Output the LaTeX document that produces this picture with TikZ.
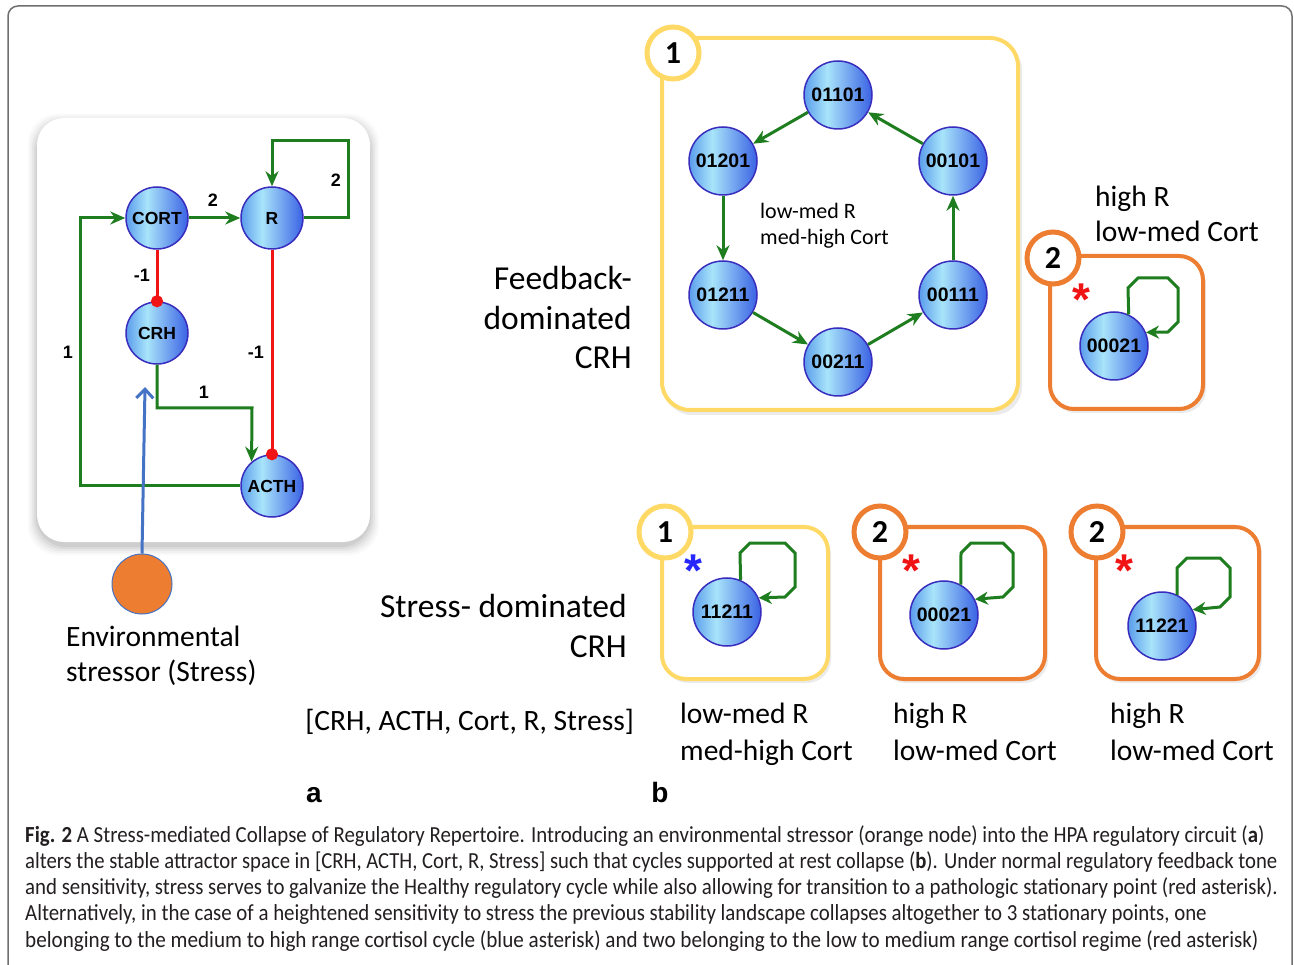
\documentclass[tikz,border=0pt]{standalone}
\usepackage{fontspec}
\usepackage{graphicx}
\setmainfont{Carlito}
\newfontfamily\arialf{Liberation Sans}
\usetikzlibrary{arrows.meta}
\definecolor{gr}{HTML}{1E7D1E}
\definecolor{rd}{HTML}{F01414}
\definecolor{yl}{HTML}{FFD966}
\definecolor{og}{HTML}{ED7D31}
\definecolor{bl}{HTML}{4472C4}
\definecolor{bA}{HTML}{5A9CEC}
\definecolor{bB}{HTML}{A8E4FA}
\definecolor{bC}{HTML}{3A62E4}
\definecolor{bD}{HTML}{3A2DBE}
\definecolor{framec}{HTML}{707070}
\definecolor{capc}{HTML}{231F20}
\pgfdeclarehorizontalshading{bubshade}{100bp}{color(0bp)=(bA); color(25bp)=(bA); color(42bp)=(bB); color(75bp)=(bC); color(100bp)=(bC)}
\newcommand\nodefontA{\arialf\bfseries\fontsize{17.5}{20}\selectfont}
\newcommand\nodefontB{\arialf\bfseries\fontsize{19.5}{20}\selectfont}
\newcommand\biglabfont{\fontsize{29.5}{35}\selectfont}
\newcommand\hugelabfont{\fontsize{33.5}{38}\selectfont}
\newcommand\midlabfont{\fontsize{22}{26}\selectfont}
\newcommand\capfont{\fontsize{23}{26}\selectfont}
\newcommand\badgefont{\bfseries\fontsize{32}{34}\selectfont}
\newcommand\edgelabfont{\arialf\bfseries\fontsize{18}{20}\selectfont}
\newcommand\astfont{\arialf\bfseries\fontsize{46}{46}\selectfont}
\newsavebox\capmeasure
\newlength\caplen
\begin{document}
\sbox\capmeasure{\capfont alters the stable attractor space in [CRH, ACTH, Cort, R, Stress] such that cycles supported at rest collapse (\textbf{b}). Under normal regulatory feedback tone}%
\setlength\caplen{\wd\capmeasure}%
\pgfmathsetmacro\capsx{1262pt/\caplen}%
\pgfmathsetmacro\capsxb{1252pt/\caplen}%
\pgfmathsetmacro\capsxe{1.013*\capsx}%
\begin{tikzpicture}[x=1pt,y=-1pt,
  bub/.style={circle, draw=bD, line width=1.5pt, shading=bubshade, inner sep=0pt},
  bubA/.style={bub, minimum size=62pt, font=\nodefontA},
  bubB/.style={bub, minimum size=68pt, font=\nodefontB},
  garrow/.style={draw=gr, line width=3pt, -{Stealth[length=15pt,width=13pt]}},
  gloop/.style={draw=gr, line width=3pt, -{Stealth[length=13pt,width=13pt]}},
  rinh/.style={draw=rd, line width=3pt, -{Circle[length=12pt]}, shorten >=-6pt},
  elab/.style={font=\edgelabfont, inner sep=0pt},
  lbl/.style={font=\biglabfont, inner sep=0pt},
  hlbl/.style={font=\hugelabfont, inner sep=0pt},
  mlbl/.style={font=\midlabfont, inner sep=0pt},
  ybox/.style={draw=yl, line width=4pt, fill=white, rounded corners=28pt},
  obox/.style={draw=og, line width=4pt, fill=white, rounded corners=24pt},
  badgey/.style={circle, draw=yl, fill=white, line width=5pt, minimum size=52pt, inner sep=0pt, font=\badgefont},
  badgeo/.style={circle, draw=og, fill=white, line width=5pt, minimum size=52pt, inner sep=0pt, font=\badgefont},
  ast/.style={font=\astfont, inner sep=0pt},
  capline/.style={anchor=base west, inner sep=0pt, text=capc}
]
\useasboundingbox (0,0) rectangle (1294,965);
\clip (0,0) rectangle (1294,965);
\fill[white] (0,0) rectangle (1294,965);
% outer frame
\draw[framec, line width=1.5pt, rounded corners=10pt] (8,990) -- (8,6) -- (1292,6) -- (1292,990);

% ---------- panel a ----------
\foreach \i/\o in {9/0.025,7/0.03,5/0.04,3/0.05,1/0.06}{
  \fill[black, opacity=\o, rounded corners=30pt] (37-\i,118-\i+5) rectangle (370+\i,542+\i+4);
}
\fill[white, rounded corners=27pt] (37,118) rectangle (370,542);

\node[bubA] (cort) at (157,218) {CORT};
\node[bubA] (r) at (272,218) {R};
\node[bubA] (crh) at (157,333) {CRH};
\node[bubA] (acth) at (272,486) {ACTH};
\node[circle, fill=og, draw=bl, line width=1pt, minimum size=60pt, inner sep=0pt] (stress) at (142,584) {};

\coordinate (rl) at (348,141);
\coordinate (ca) at (252,408);
\coordinate (cb) at (80,218);
\coordinate (stip) at (145,387);

\draw[garrow] (cort) -- (r);
\draw[garrow] (r.east) -| (rl) -| (r.north);
\draw[rinh] (cort.south) -- (crh.north);
\draw[rinh] (r.south) -- (acth.north);
\draw[garrow] (crh.south) |- (ca) -- (acth.130);
\draw[garrow] (acth.west) -| (cb) -- (cort.west);
\draw[bl, line width=3pt, -{Straight Barb[length=9pt,width=17pt]}] (stress.north) -- (stip);

\node[elab] (l1) at (213,200) {2};
\node[elab] (l2) at (336,180) {2};
\node[elab] (l3) at (142,275) {-1};
\node[elab] (l4) at (256,352) {-1};
\node[elab] (l5) at (204,392) {1};
\node[elab] (l6) at (68,352) {1};

\node[lbl, anchor=base west] (env1) at (66,646) {Environmental};
\node[lbl, anchor=base west] (env2) at (66,681) {stressor (Stress)};

% ---------- panel b, top ----------
\fill[black, opacity=0.08, rounded corners=28pt] (664,42) rectangle (1022,415);
\draw[ybox] (662,38) rectangle (1018,410);
\node[badgey] (bd1) at (673,53) {1};

\node[bubB] (s1) at (838,95) {01101};
\node[bubB] (s2) at (723,161) {01201};
\node[bubB] (s3) at (723,295) {01211};
\node[bubB] (s4) at (838,362) {00211};
\node[bubB] (s5) at (953,295) {00111};
\node[bubB] (s6) at (953,161) {00101};
\draw[garrow] (s1) -- (s2);
\draw[garrow] (s2) -- (s3);
\draw[garrow] (s3) -- (s4);
\draw[garrow] (s4) -- (s5);
\draw[garrow] (s5) -- (s6);
\draw[garrow] (s6) -- (s1);
\node[mlbl, anchor=base west] (c1a) at (760,219) {low-med R};
\node[mlbl, anchor=base west] (c1b) at (760,245) {med-high Cort};

\node[hlbl, anchor=base east] (fb1) at (632,290) {Feedback-};
\node[hlbl, anchor=base east] (fb2) at (632,330) {dominated};
\node[hlbl, anchor=base east] (fb3) at (632,369) {CRH};

\fill[black, opacity=0.08, rounded corners=24pt] (1052,260) rectangle (1206,413);
\draw[obox] (1050,256) rectangle (1203,409);
\node[badgeo] (bd2) at (1053,258) {2};
\node[ast, text=rd] (as0) at (1081,300) {*};
\node[bubB] (t1) at (1114,346) {00021};
\draw[gloop] (t1.65) -- (1128,288) -- (1138,278) -- (1168,278) -- (1178,288) -- (1178,322) -- (1168,332) -- (t1.23);
\node[lbl, anchor=base west] (hr1) at (1095,207) {high R};
\node[lbl, anchor=base west] (hr2) at (1095,242) {low-med Cort};

% ---------- panel b, bottom ----------
\node[hlbl, anchor=base east] (sd1) at (627,617) {Stress- dominated};
\node[hlbl, anchor=base east] (sd2) at (627,657) {CRH};
\node[lbl, anchor=base east] (vec) at (634,730) {[CRH, ACTH, Cort, R, Stress]};

\fill[black, opacity=0.08, rounded corners=24pt] (664,530) rectangle (831,683);
\draw[ybox, rounded corners=24pt] (662,527) rectangle (828,679);
\node[badgey] (bd3) at (665,532) {1};
\node[ast, text=blue!85!white] (as1) at (693,571) {*};
\node[bubB] (u1) at (727,612) {11211};
\draw[gloop] (u1.67) -- (740,553) -- (750,543) -- (785,543) -- (795,553) -- (795,587) -- (785,597) -- (u1.24);

\fill[black, opacity=0.08, rounded corners=24pt] (882,530) rectangle (1048,683);
\draw[obox] (880,527) rectangle (1045,679);
\node[badgeo] (bd4) at (880,532) {2};
\node[ast, text=rd] (as2) at (911,571) {*};
\node[bubB] (u2) at (944,615) {00021};
\draw[gloop] (u2.61) -- (961,553) -- (971,543) -- (1003,543) -- (1013,553) -- (1013,587) -- (1003,597) -- (u2.27);

\fill[black, opacity=0.08, rounded corners=24pt] (1098,530) rectangle (1262,683);
\draw[obox] (1096,527) rectangle (1259,679);
\node[badgeo] (bd5) at (1097,532) {2};
\node[ast, text=rd] (as3) at (1124,571) {*};
\node[bubB] (u3) at (1162,626) {11221};
\draw[gloop] (u3.64) -- (1177,568) -- (1187,558) -- (1220,558) -- (1230,568) -- (1230,597) -- (1220,607) -- (u3.28);

\node[lbl, anchor=base west] (q1a) at (680,723) {low-med R};
\node[lbl, anchor=base west] (q1b) at (680,760) {med-high Cort};
\node[lbl, anchor=base west] (q2a) at (893,723) {high R};
\node[lbl, anchor=base west] (q2b) at (893,760) {low-med Cort};
\node[lbl, anchor=base west] (q3a) at (1110,723) {high R};
\node[lbl, anchor=base west] (q3b) at (1110,760) {low-med Cort};

\node[font=\arialf\bfseries\fontsize{28}{30}\selectfont, anchor=base, inner sep=0pt] (pa) at (314,802) {a};
\node[font=\arialf\bfseries\fontsize{28}{30}\selectfont, anchor=base, inner sep=0pt] (pb) at (660,802) {b};

% ---------- caption ----------
\node[capline] (cap1) at (25,842) {\scalebox{\capsx}[1]{\capfont\textbf{Fig. 2} A Stress-mediated Collapse of Regulatory Repertoire. Introducing an environmental stressor (orange node) into the HPA regulatory circuit (\textbf{a})}};
\node[capline] (cap2) at (25,868) {\scalebox{\capsxb}[1]{\capfont alters the stable attractor space in [CRH, ACTH, Cort, R, Stress] such that cycles supported at rest collapse (\textbf{b}). Under normal regulatory feedback tone}};
\node[capline] (cap3) at (25,894) {\scalebox{\capsx}[1]{\capfont and sensitivity, stress serves to galvanize the Healthy regulatory cycle while also allowing for transition to a pathologic stationary point (red asterisk).}};
\node[capline] (cap4) at (25,920) {\scalebox{\capsx}[1]{\capfont Alternatively, in the case of a heightened sensitivity to stress the previous stability landscape collapses altogether to 3 stationary points, one}};
\node[capline] (cap5) at (25,947) {\scalebox{\capsxe}[1]{\capfont belonging to the medium to high range cortisol cycle (blue asterisk) and two belonging to the low to medium range cortisol regime (red asterisk)}};
\end{tikzpicture}
\end{document}
